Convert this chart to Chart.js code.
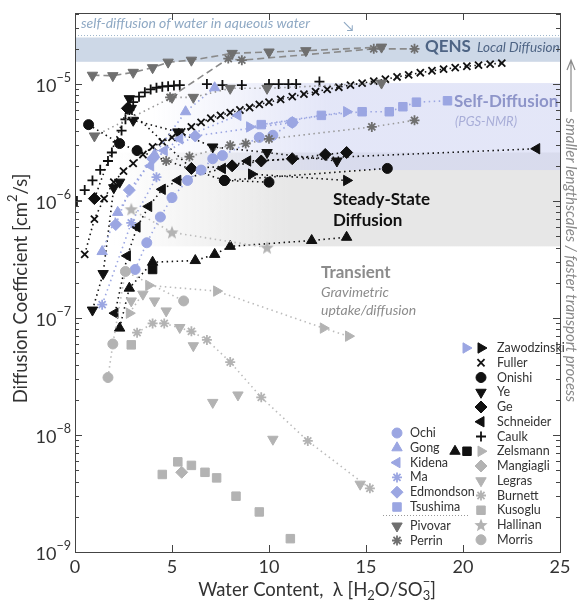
<!DOCTYPE html>
<html>
<head>
<meta charset="utf-8">
<script src="https://cdn.jsdelivr.net/npm/chart.js@4.4.1/dist/chart.umd.min.js"></script>
<style>
  html, body { margin: 0; padding: 0; background: #fff; }
</style>
</head>
<body>
<canvas id="myChart" width="580" height="603"></canvas>
<script>
'use strict';

// ---- data: [water content lambda, diffusion coefficient cm2/s] ----
const fuller = [[0.5,3.5e-7],[1.0,7e-7],[1.5,1.05e-6],[2.0,1.45e-6],[2.5,1.8e-6],[3.0,2.1e-6],[3.5,2.5e-6],[4.0,2.9e-6],[4.5,3.2e-6],[5.0,3.5e-6],[5.5,3.9e-6],[6.0,4.3e-6],[6.5,4.7e-6],[7.0,5.1e-6],[7.5,5.4e-6],[8.0,5.7e-6],[8.5,6.0e-6],[9.0,6.3e-6],[9.5,6.7e-6],[10.0,7.0e-6],[10.6,7.4e-6],[11.2,7.8e-6],[11.8,8.2e-6],[12.4,8.6e-6],[13.0,9.0e-6],[13.6,9.4e-6],[14.2,9.8e-6],[14.8,1.02e-5],[15.4,1.06e-5],[16.0,1.1e-5],[16.6,1.15e-5],[17.2,1.2e-5],[17.8,1.25e-5],[18.4,1.3e-5],[19.0,1.34e-5],[19.6,1.38e-5],[20.2,1.42e-5],[20.8,1.45e-5],[21.4,1.48e-5],[22.0,1.51e-5]];
const caulk = [[0.1,1.0e-6],[0.5,1.24e-6],[0.9,1.5e-6],[1.3,1.85e-6],[1.7,2.2e-6],[1.9,2.6e-6],[2.2,3.2e-6],[2.4,4.0e-6],[2.6,5.0e-6],[2.8,6.0e-6],[3.0,7.0e-6],[3.3,7.8e-6],[3.6,8.5e-6],[3.9,9.0e-6],[4.2,9.3e-6],[4.5,9.5e-6],[4.8,9.6e-6],[5.1,9.7e-6],[5.4,9.8e-6],[6.8,1.0e-5],[7.6,9.8e-6],[8.6,9.8e-6],[10.0,1.0e-5],[10.5,1.0e-5],[11.0,1.0e-5],[11.4,1.0e-5],[12.6,1.05e-5]];
const onishi = [[0.7,4.5e-6],[2.3,3.1e-6],[3.2,2.7e-6],[7.7,1.5e-6],[10.0,1.45e-6]];
const onishi2 = [[7.7,1.5e-6],[16.1,1.9e-6]];
const yeLow = [[0.9,1.17e-7],[1.45,2.4e-7],[2.0,1.3e-6],[2.3,1.45e-6]];
const yeHigh = [[2.8,7.5e-6],[2.9,6.2e-6],[3.0,4.9e-6],[5.3,3.9e-6],[7.1,2.9e-6],[9.9,2.6e-6],[13.5,2.2e-6]];
const ge = [[1.0,1.05e-6],[2.7,6.2e-6],[6.0,1.9e-6],[8.1,2.0e-6],[9.6,2.2e-6],[11.2,2.3e-6],[12.9,2.5e-6],[14.0,2.6e-6]];
const schneider = [[2.06,1.1e-7],[2.7,3.4e-7],[3.2,6e-7],[3.8,9e-7],[4.5,1.26e-6],[5.3,1.5e-6],[7.6,1.9e-6],[8.9,2.2e-6],[23.8,2.8e-6]];
const zawoBlack = [[9.1,1.7e-6],[14.0,1.5e-6]];
const zawoBlue = [[9.0,4.3e-6],[14.0,5.8e-6]];
const zelsTri = [[2.3,8.2e-8],[2.8,1.8e-7],[4.0,3.0e-7],[6.2,3.1e-7],[7.2,3.5e-7],[8.0,4.1e-7],[12.2,4.6e-7],[14.0,4.9e-7]];
const zelsSq = [[4.0,2.6e-7]];
const zelsRight = [[2.8,1.1e-7],[3.8,1.9e-7],[7.3,1.7e-7],[12.8,8.2e-8],[14.1,7.0e-8]];
const tsushima = [[9.6,4.5e-6],[12.7,5.4e-6],[14.8,5.8e-6],[16.2,5.8e-6],[16.9,6.4e-6],[17.6,7.0e-6],[19.2,7.2e-6]];
const ochi = [[3.1,2.6e-7],[3.7,4.4e-7],[4.4,7.3e-7],[5.0,1.07e-6],[5.8,1.5e-6],[6.5,1.84e-6],[7.1,2.3e-6],[7.6,2.45e-6],[9.5,3.5e-6],[10.2,3.65e-6],[11.2,4.7e-6]];
const gong = [[1.4,3.7e-7],[2.2,8e-7],[4.1,2.5e-6],[5.7,5.8e-6],[7.2,9.3e-6]];
const kidena = [[3.9,2.0e-6],[4.6,2.7e-6],[5.4,3.4e-6],[8.4,5.4e-6]];
const ma = [[1.4,1.3e-7],[2.9,6.5e-7],[4.2,1.6e-6]];
const edmondson = [[2.1,6.3e-7],[2.8,1.24e-6],[4.0,2.3e-6],[6.2,3.6e-6],[11.2,4.7e-6]];
const pivovarQens = [[0.9,1.19e-5],[1.95,1.18e-5],[3.0,1.26e-5],[4.0,1.38e-5],[4.8,1.54e-5],[6.0,1.6e-5],[8.1,1.83e-5],[10.0,1.88e-5],[11.9,1.93e-5],[15.8,2.07e-5]];
const perrinQens = [[4.9,7.7e-6],[7.9,1.65e-5],[8.6,1.6e-5],[15.4,2.0e-5],[17.5,2.0e-5]];
const pivovarNmr = [[1.0,3.6e-6],[5.0,7.7e-6],[6.1,7.7e-6],[8.0,9.2e-6],[9.9,9.2e-6],[15.8,1.02e-5]];
const perrinNmr = [[4.7,2.2e-6],[5.9,2.4e-6],[8.0,3.0e-6],[8.8,3.1e-6],[10.0,3.4e-6],[15.3,4.3e-6],[17.5,4.9e-6]];
const burnett = [[3.2,7.5e-8],[4.0,9e-8],[4.6,9e-8],[6.0,7.7e-8],[6.8,6.5e-8],[8.0,4.2e-8],[9.6,2.1e-8],[12.0,8.9e-9],[15.2,3.5e-9]];
const legras = [[2.9,1.4e-7],[3.5,1.6e-7],[4.1,1.4e-7],[4.7,1.15e-7],[5.4,8.3e-8],[6.1,5.8e-8],[7.1,1.9e-8],[8.4,2.2e-8],[10.2,9.2e-9],[14.7,3.8e-9]];
const morris = [[1.7,3.1e-8],[1.95,6e-8],[2.6,2.5e-7],[5.6,1.4e-7]];
const kusoglu = [[2.9,5.9e-8],[4.5,4.6e-9],[5.3,5.9e-9],[6.0,5.5e-9],[6.7,4.8e-9],[7.3,4.3e-9],[8.3,3.0e-9],[9.5,2.2e-9],[11.1,1.3e-9]];
const mangiagli = [[5.5,4.8e-9]];
const hallinan = [[2.9,8.5e-7],[5.0,5.4e-7],[9.9,4.0e-7]];

const xTicks = [0, 5, 10, 15, 20, 25];
const yDecades = [-9, -8, -7, -6, -5];

// shaded regions [low, high] in cm2/s
const qensBand = [1.55e-5, 2.5e-5];
const selfBand = [1.84e-6, 1.02e-5];
const steadyBand = [4.1e-7, 2.6e-6];
const waterSelf = 2.6e-5;

const legendLeft = ['Ochi', 'Gong', 'Kidena', 'Ma', 'Edmondson', 'Tsushima'];
const legendLeft2 = ['Pivovar', 'Perrin'];
const legendRight = ['Zawodzinski', 'Fuller', 'Onishi', 'Ye', 'Ge', 'Schneider', 'Caulk', 'Zelsmann', 'Mangiagli', 'Legras', 'Burnett', 'Kusoglu', 'Hallinan', 'Morris'];

const BLACK = '#111';
const BLUE = '#9ba6e2';
const DARK = '#6f6f6f';
const LIGHT = '#b3b3b3';
const FONT = 'Lato, "Open Sans", sans-serif';

// five pointed star for Hallinan
let starImg = document.createElement('canvas');
starImg.width = 14; starImg.height = 14;
(function() {
  let c = starImg.getContext('2d');
  c.fillStyle = LIGHT;
  c.beginPath();
  for (let i = 0; i < 10; i++) {
    let r = i % 2 === 0 ? 7 : 3;
    let a = -Math.PI / 2 + i * Math.PI / 5;
    c.lineTo(7 + r * Math.cos(a), 7.5 + r * Math.sin(a));
  }
  c.closePath();
  c.fill();
})();

const M = {
  circle: {shape: 'circle', r: 5},
  up: {shape: 'triangle', r: 6},
  down: {shape: 'triangle', r: 6, rot: 180},
  left: {shape: 'triangle', r: 6, rot: 270},
  right: {shape: 'triangle', r: 6, rot: 90},
  diamond: {shape: 'rectRot', r: 6},
  square: {shape: 'rect', r: 6},
  x: {shape: 'crossRot', r: 5, bw: 1.8},
  plus: {shape: 'cross', r: 5, bw: 1.8},
  ast: {shape: 'star', r: 5, bw: 1.8},
  star5: {shape: starImg, r: 7}
};

function series(data, m, color, line, lineColor) {
  return {
    data: data.map(p => ({x: p[0], y: p[1]})),
    pointStyle: m.shape,
    pointRotation: m.rot || 0,
    pointRadius: m.r,
    pointHoverRadius: m.r,
    pointBackgroundColor: color,
    pointBorderColor: color,
    pointBorderWidth: m.bw || 1,
    showLine: !!line,
    borderColor: lineColor || color,
    borderWidth: 1.6,
    borderDash: line === 'dash' ? [7, 4] : [1.5, 3.5]
  };
}

const datasets = [
  series(pivovarQens, M.down, DARK, 'dash', '#8a8a8a'),
  series(perrinQens, M.ast, DARK, 'dash', '#8a8a8a'),
  series(pivovarNmr, M.down, DARK, 'dot', '#999'),
  series(perrinNmr, M.ast, DARK, 'dot', '#999'),
  series(burnett, M.ast, LIGHT, 'dot', '#bbb'),
  series(legras, M.down, LIGHT),
  series(morris, M.circle, LIGHT, 'dot', '#bbb'),
  series(kusoglu, M.square, LIGHT),
  series(mangiagli, M.diamond, LIGHT),
  series(hallinan, M.star5, LIGHT, 'dot', '#bbb'),
  series(zelsRight, M.right, LIGHT, 'dot', '#bbb'),
  series(tsushima, M.square, BLUE, 'dot'),
  series(ochi, M.circle, BLUE, 'dot'),
  series(gong, M.up, BLUE, 'dot'),
  series(kidena, M.left, BLUE, 'dot'),
  series(ma, M.ast, BLUE, 'dot'),
  series(edmondson, M.diamond, BLUE, 'dot'),
  series(zawoBlue, M.right, BLUE, 'dot'),
  series(fuller, M.x, BLACK, 'dot'),
  series(caulk, M.plus, BLACK),
  series(onishi, M.circle, BLACK, 'dot'),
  series(onishi2, M.circle, BLACK, 'dot'),
  series(yeLow, M.down, BLACK, 'dot'),
  series(yeHigh, M.down, BLACK, 'dot'),
  series(ge, M.diamond, BLACK, 'dot'),
  series(schneider, M.left, BLACK, 'dot'),
  series(zawoBlack, M.right, BLACK, 'dot'),
  series(zelsTri, M.up, BLACK, 'dot'),
  series(zelsSq, M.square, BLACK)
];

function marker(ctx, m, color, x, y) {
  ctx.save();
  ctx.fillStyle = color;
  ctx.strokeStyle = color;
  ctx.lineWidth = m.bw || 1;
  Chart.helpers.drawPoint(ctx, {pointStyle: m.shape, rotation: m.rot || 0, radius: m.r, borderWidth: m.bw || 1}, x, y);
  ctx.restore();
}

// text with raised / lowered parts: parts = [[text, 'n'|'sup'|'sub', noAdvance], ...]
function richText(ctx, parts, x, y, size) {
  let cx = x;
  for (let p of parts) {
    let s = p[1] === 'n' ? size : size * 0.7;
    let dy = p[1] === 'sup' ? -size * 0.45 : (p[1] === 'sub' ? size * 0.3 : 0);
    ctx.font = s + 'px ' + FONT;
    ctx.fillText(p[0], cx, y + dy);
    if (!p[2]) cx += ctx.measureText(p[0]).width;
  }
  return cx - x;
}
function richWidth(ctx, parts, size) {
  let w = 0;
  for (let p of parts) {
    let s = p[1] === 'n' ? size : size * 0.7;
    ctx.font = s + 'px ' + FONT;
    if (!p[2]) w += ctx.measureText(p[0]).width;
  }
  return w;
}

const decor = {
  id: 'decor',
  beforeDatasetsDraw(chart) {
    const {ctx, chartArea: a, scales: {x, y}} = chart;
    ctx.save();
    // QENS band
    let t = y.getPixelForValue(qensBand[1]), b = y.getPixelForValue(qensBand[0]);
    ctx.fillStyle = '#cdd8e7';
    ctx.fillRect(a.left, t, a.right - a.left, b - t);
    // steady state band (grey, fades to the left)
    t = y.getPixelForValue(steadyBand[1]); b = y.getPixelForValue(steadyBand[0]);
    let g = ctx.createLinearGradient(x.getPixelForValue(2), 0, x.getPixelForValue(11), 0);
    g.addColorStop(0, 'rgba(215,215,215,0)');
    g.addColorStop(1, 'rgba(215,215,215,0.6)');
    ctx.fillStyle = g;
    ctx.fillRect(a.left, t, a.right - a.left, b - t);
    // self diffusion band
    t = y.getPixelForValue(selfBand[1]); b = y.getPixelForValue(selfBand[0]);
    g = ctx.createLinearGradient(x.getPixelForValue(4), 0, x.getPixelForValue(13), 0);
    g.addColorStop(0, 'rgba(205,210,242,0)');
    g.addColorStop(1, 'rgba(205,210,242,0.55)');
    ctx.fillStyle = g;
    ctx.fillRect(a.left, t, a.right - a.left, b - t);
    // water self diffusion line
    let wy = y.getPixelForValue(waterSelf);
    ctx.strokeStyle = '#9fb6cc';
    ctx.setLineDash([1, 2]);
    ctx.lineWidth = 1;
    ctx.beginPath(); ctx.moveTo(a.left, wy); ctx.lineTo(a.right, wy); ctx.stroke();
    ctx.setLineDash([]);
    ctx.fillStyle = '#8fa9c4';
    ctx.font = 'italic 14px ' + FONT;
    ctx.textBaseline = 'middle';
    ctx.fillText('self-diffusion of water in aqueous water', a.left + 6, wy - 12);
    ctx.fillText('\u2198', a.left + 268, wy - 9);

    // region labels
    ctx.fillStyle = '#4e6484';
    ctx.font = 'bold 17px ' + FONT;
    ctx.fillText('QENS', 425, 47);
    ctx.font = 'italic 13.5px ' + FONT;
    ctx.fillText('Local Diffusion', 477, 48);
    ctx.fillStyle = '#8e95c9';
    ctx.font = 'bold 17px ' + FONT;
    ctx.fillText('Self-Diffusion', 454, 102);
    ctx.fillStyle = '#a9aed8';
    ctx.font = 'italic 13px ' + FONT;
    ctx.fillText('(PGS-NMR)', 455, 122);
    ctx.fillStyle = '#111';
    ctx.font = 'bold 17px ' + FONT;
    ctx.fillText('Steady-State', 333, 200);
    ctx.fillText('Diffusion', 333, 221);
    ctx.fillStyle = '#8c8c8c';
    ctx.fillText('Transient', 321, 273);
    ctx.font = 'italic 14px ' + FONT;
    ctx.fillText('Gravimetric', 321, 292);
    ctx.fillText('uptake/diffusion', 321, 310);
    ctx.restore();
  },
  afterDatasetsDraw(chart) {
    const {ctx, chartArea: a, scales: {x, y}} = chart;
    ctx.save();
    // frame
    ctx.strokeStyle = '#444';
    ctx.lineWidth = 1;
    ctx.strokeRect(a.left + 0.5, a.top + 0.5, a.right - a.left, a.bottom - a.top);
    // ticks point inward
    ctx.beginPath();
    for (let d of yDecades) {
      for (let k = 1; k <= 9; k++) {
        let v = k * Math.pow(10, d);
        if (v > y.max) continue;
        let py = Math.round(y.getPixelForValue(v)) + 0.5;
        let len = k === 1 ? 7 : 4;
        ctx.moveTo(a.left, py); ctx.lineTo(a.left + len, py);
        ctx.moveTo(a.right, py); ctx.lineTo(a.right - len, py);
      }
    }
    for (let k = 2; k <= 4; k++) {
      let v = k * 1e-5;
      if (v > y.max) continue;
      let py = Math.round(y.getPixelForValue(v)) + 0.5;
      ctx.moveTo(a.left, py); ctx.lineTo(a.left + 4, py);
      ctx.moveTo(a.right, py); ctx.lineTo(a.right - 4, py);
    }
    for (let v of xTicks) {
      let px = Math.round(x.getPixelForValue(v)) + 0.5;
      ctx.moveTo(px, a.bottom); ctx.lineTo(px, a.bottom - 7);
      ctx.moveTo(px, a.top); ctx.lineTo(px, a.top + 7);
    }
    ctx.stroke();

    // tick labels
    ctx.fillStyle = '#333';
    ctx.textBaseline = 'middle';
    ctx.textAlign = 'center';
    ctx.font = '18px ' + FONT;
    for (let v of xTicks) {
      ctx.fillText(String(v), x.getPixelForValue(v), a.bottom + 15);
    }
    ctx.textAlign = 'left';
    for (let d of yDecades) {
      let py = y.getPixelForValue(Math.pow(10, d));
      let parts = [['10', 'n'], ['\u2212' + (-d), 'sup']];
      let w = richWidth(ctx, parts, 18);
      richText(ctx, parts, 71 - w, py + 2, 18);
    }

    // axis titles
    ctx.fillStyle = '#333';
    let xt = [['Water Content,  \u03bb [H', 'n'], ['2', 'sub'], ['O/SO', 'n'], ['\u2212', 'sup', true], ['3', 'sub'], [']', 'n']];
    let w = richWidth(ctx, xt, 18.5);
    richText(ctx, xt, 317 - w / 2, 590, 18.5);
    ctx.save();
    ctx.translate(21, (a.top + a.bottom) / 2 + 6);
    ctx.rotate(-Math.PI / 2);
    let yt = [['Diffusion Coefficient [cm', 'n'], ['2', 'sup'], ['/s]', 'n']];
    w = richWidth(ctx, yt, 18.5);
    richText(ctx, yt, -w / 2, 0, 18.5);
    ctx.restore();

    // right-hand arrow and note
    ctx.strokeStyle = '#8a8a8a';
    ctx.lineWidth = 1.2;
    ctx.beginPath();
    ctx.moveTo(571, 112); ctx.lineTo(571, 60);
    ctx.moveTo(567, 70); ctx.lineTo(571, 60); ctx.lineTo(575, 70);
    ctx.stroke();
    ctx.save();
    ctx.translate(571, 118);
    ctx.rotate(Math.PI / 2);
    ctx.fillStyle = '#8a8a8a';
    ctx.font = 'italic 15px ' + FONT;
    ctx.textAlign = 'left';
    ctx.fillText('smaller lengthscales / faster transport process', 0, 0);
    ctx.restore();

    // legend
    const leftMarks = [M.circle, M.up, M.left, M.ast, M.diamond, M.square];
    legendLeft.forEach((name, i) => {
      let ly = 433 + i * 14.8;
      marker(ctx, leftMarks[i], BLUE, 397, ly);
      ctx.fillStyle = '#333';
      ctx.font = '12.5px ' + FONT;
      ctx.fillText(name, 410, ly);
    });
    ctx.strokeStyle = '#999';
    ctx.setLineDash([1, 2]);
    ctx.beginPath(); ctx.moveTo(383, 515.5); ctx.lineTo(470, 515.5); ctx.stroke();
    ctx.setLineDash([]);
    const left2Marks = [M.down, M.ast];
    legendLeft2.forEach((name, i) => {
      let ly = 526 + i * 14.5;
      marker(ctx, left2Marks[i], DARK, 397, ly);
      ctx.fillStyle = '#333';
      ctx.font = '12.5px ' + FONT;
      ctx.fillText(name, 410, ly);
    });
    const rightMarks = [
      [[M.right, BLUE, 466], [M.right, BLACK, 481]],
      [[M.x, BLACK, 481]], [[M.circle, BLACK, 481]], [[M.down, BLACK, 481]],
      [[M.diamond, BLACK, 481]], [[M.left, BLACK, 481]], [[M.plus, BLACK, 481]],
      [[M.up, BLACK, 455], [M.square, BLACK, 467], [M.right, LIGHT, 481]],
      [[M.diamond, LIGHT, 481]], [[M.down, LIGHT, 481]], [[M.ast, LIGHT, 481]],
      [[M.square, LIGHT, 481]], [[M.star5, LIGHT, 481]], [[M.circle, LIGHT, 481]]
    ];
    legendRight.forEach((name, i) => {
      let ly = 348 + i * 14.75;
      for (let mk of rightMarks[i]) marker(ctx, mk[0], mk[1], mk[2], ly);
      ctx.fillStyle = '#333';
      ctx.font = '12.5px ' + FONT;
      ctx.fillText(name, 497, ly);
    });
    ctx.restore();
  }
};

let chartCanvas = document.getElementById('myChart');
new Chart(chartCanvas, {
  type: 'scatter',
  data: {datasets: datasets},
  options: {
    responsive: false,
    animation: false,
    events: [],
    layout: {padding: {left: 75, top: 13, right: 20, bottom: 51}},
    plugins: {legend: {display: false}, tooltip: {enabled: false}},
    scales: {
      x: {type: 'linear', min: 0, max: 25, display: false},
      y: {type: 'logarithmic', min: 1e-9, max: 4.05e-5, display: false}
    }
  },
  plugins: [decor]
});
</script>
</body>
</html>
